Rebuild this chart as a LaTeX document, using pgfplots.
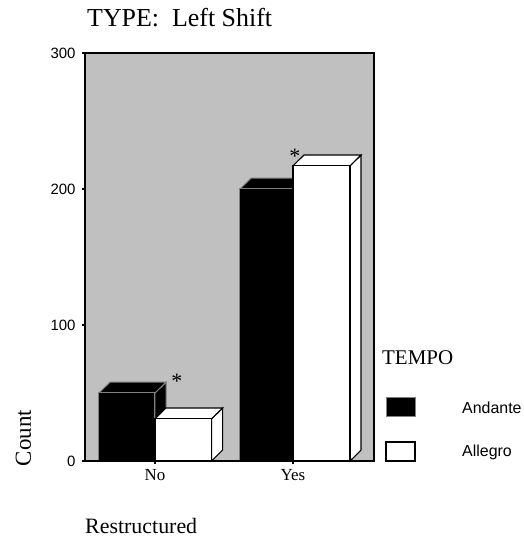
\documentclass[border=0pt]{standalone}
\usepackage{pgfplots}
\pgfplotsset{compat=1.18}
\usepackage{fontspec}
\setmainfont{Liberation Serif}
\newfontfamily\sansfont{Liberation Sans}
\definecolor{bggray}{RGB}{192,192,192}
\definecolor{edgegray}{RGB}{128,128,128}

\begin{document}
\begin{tikzpicture}
\path[use as bounding box] (-85bp,-78bp) rectangle (439bp,461bp);
\begin{axis}[
  at={(0,0)}, anchor=south west, scale only axis,
  width=289bp, height=408bp,
  xmin=-0.507, xmax=1.587, ymin=0, ymax=300,
  xtick={0,1}, xticklabels={No,Yes},
  ytick={0,100,200,300},
  tick pos=left, tick align=outside,
  major tick length=3bp,
  tick style={black, line width=2.5bp},
  axis line style={black, line width=1.5bp},
  axis background/.style={fill=bggray},
  axis on top,
  /pgf/number format/assume math mode=true,
  yticklabel style={font=\sansfont\fontsize{15}{18}\selectfont, xshift=-3bp},
  xticklabel style={font=\fontsize{17}{20}\selectfont, yshift=-2bp},
]
% Andante, No (value 50)
\addplot[fill=black, draw=edgegray, line width=1bp] coordinates {(0,0) (0.08,8) (0.08,58) (0,50)} -- cycle;
\addplot[fill=black, draw=edgegray, line width=1bp] coordinates {(-0.406,50) (0,50) (0.08,58) (-0.326,58)} -- cycle;
\addplot[fill=black, draw=edgegray, line width=1bp] coordinates {(-0.406,0) (0,0) (0,50) (-0.406,50)} -- cycle;
% Allegro, No (value 31)
\addplot[fill=white, draw=black, line width=1.1bp] coordinates {(0.41,0) (0.49,8) (0.49,39) (0.41,31)} -- cycle;
\addplot[fill=white, draw=black, line width=1.1bp] coordinates {(0,31) (0.41,31) (0.49,39) (0.08,39)} -- cycle;
\addplot[fill=white, draw=black, line width=1.1bp] coordinates {(0,0) (0.41,0) (0.41,31) (0,31)} -- cycle;
% Andante, Yes (value 200)
\addplot[fill=black, draw=edgegray, line width=1bp] coordinates {(1,0) (1.08,8) (1.08,208) (1,200)} -- cycle;
\addplot[fill=black, draw=edgegray, line width=1bp] coordinates {(0.616,200) (1,200) (1.08,208) (0.696,208)} -- cycle;
\addplot[fill=black, draw=edgegray, line width=1bp] coordinates {(0.616,0) (1,0) (1,200) (0.616,200)} -- cycle;
% Allegro, Yes (value 217)
\addplot[fill=white, draw=black, line width=1.1bp] coordinates {(1.413,0) (1.493,8) (1.493,225) (1.413,217)} -- cycle;
\addplot[fill=white, draw=black, line width=1.1bp] coordinates {(1,217) (1.413,217) (1.493,225) (1.08,225)} -- cycle;
\addplot[fill=white, draw=black, line width=1.1bp] coordinates {(1,0) (1.413,0) (1.413,217) (1,217)} -- cycle;
% asterisks
\node[anchor=base, inner sep=0pt, font=\fontsize{22}{24}\selectfont] at (axis cs:0.159,53) {*};
\node[anchor=base, inner sep=0pt, font=\fontsize{22}{24}\selectfont] at (axis cs:1.014,219) {*};
\end{axis}
% title and axis titles
\node[anchor=base west, inner sep=0pt, font=\fontsize{26}{30}\selectfont] at (2bp,434.5bp) {TYPE:\ \ Left Shift};
\node[rotate=90, inner sep=0pt, font=\fontsize{23}{26}\selectfont] at (-61.5bp,23bp) {Count};
\node[anchor=base west, inner sep=0pt, font=\fontsize{22}{25}\selectfont] at (0bp,-72bp) {Restructured};
% legend
\node[anchor=base west, inner sep=0pt, font=\fontsize{21}{24}\selectfont] at (297bp,96bp) {TEMPO};
\draw[fill=black, draw=edgegray, line width=1bp] (301bp,44bp) rectangle (330bp,63bp);
\node[anchor=west, inner sep=0pt, font=\sansfont\fontsize{16}{19}\selectfont] at (377bp,53bp) {Andante};
\draw[fill=white, draw=black, line width=1.1bp] (301bp,0bp) rectangle (330bp,19bp);
\node[anchor=west, inner sep=0pt, font=\sansfont\fontsize{16}{19}\selectfont] at (377bp,9bp) {Allegro};
\end{tikzpicture}
\end{document}
